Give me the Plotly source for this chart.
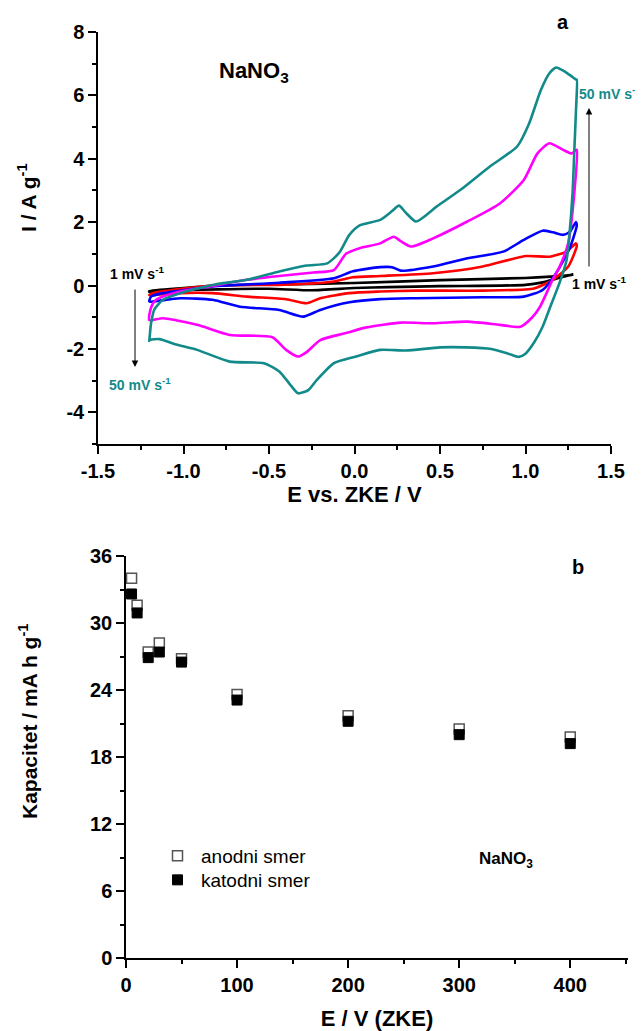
import plotly.graph_objects as go

# ---------- Panel a: cyclic voltammograms (NaNO3) ----------
teal_x = [-1.2, -1.19, -1.17, -1.12, -1.02, -0.83, -0.63, -0.44, -0.28, -0.16, -0.09, -0.03, 0.03, 0.15, 0.22, 0.26, 0.30, 0.36, 0.48, 0.62, 0.79, 0.95, 1.02, 1.09, 1.14, 1.18, 1.23, 1.27, 1.295,
          1.30, 1.295, 1.285, 1.275, 1.255, 1.24, 1.20, 1.15, 1.10, 1.05, 1.00, 0.96, 0.90, 0.80, 0.65, 0.50, 0.30, 0.15, 0.01, -0.12, -0.22, -0.27, -0.33, -0.38, -0.44, -0.53, -0.73, -0.92, -1.05, -1.14, -1.2, -1.2]
teal_y = [-1.75, -1.2, -0.75, -0.45, -0.24, 0.02, 0.18, 0.44, 0.63, 0.70, 1.03, 1.6, 1.9, 2.07, 2.35, 2.52, 2.3, 2.02, 2.49, 3.02, 3.75, 4.38, 5.1, 6.17, 6.7, 6.88, 6.75, 6.6, 6.5,
          6.5, 5.5, 4.2, 2.9, 1.5, 0.8, 0.1, -0.6, -1.3, -1.8, -2.15, -2.25, -2.15, -2.0, -1.95, -1.95, -2.05, -2.03, -2.24, -2.45, -2.98, -3.3, -3.40, -3.1, -2.71, -2.45, -2.40, -2.03, -1.85, -1.69, -1.72, -1.75]

magenta_x = [-1.2, -1.19, -1.16, -1.02, -0.83, -0.63, -0.44, -0.24, -0.12, -0.05, 0.03, 0.15, 0.23, 0.27, 0.33, 0.46, 0.66, 0.85, 0.99, 1.07, 1.14, 1.22, 1.27, 1.295,
             1.30, 1.285, 1.25, 1.20, 1.16, 1.085, 1.04, 0.97, 0.85, 0.66, 0.46, 0.27, 0.07, -0.05, -0.20, -0.28, -0.33, -0.40, -0.48, -0.73, -0.92, -1.12, -1.2]
magenta_y = [-1.09, -0.7, -0.45, -0.19, -0.01, 0.18, 0.30, 0.41, 0.49, 1.0, 1.18, 1.33, 1.54, 1.4, 1.23, 1.49, 2.02, 2.59, 3.33, 4.17, 4.49, 4.28, 4.17, 4.28,
             4.28, 2.9, 1.34, 0.6, 0.2, -0.67, -1.0, -1.30, -1.24, -1.14, -1.19, -1.17, -1.32, -1.50, -1.72, -2.1, -2.24, -2.03, -1.63, -1.56, -1.24, -1.03, -1.09]

blue_x = [-1.2, -1.19, -1.12, -0.83, -0.44, -0.12, -0.01, 0.15, 0.22, 0.27, 0.46, 0.66, 0.87, 0.99, 1.10, 1.16, 1.22, 1.26, 1.295,
          1.30, 1.26, 1.18, 1.10, 0.99, 0.75, 0.36, 0.15, -0.03, -0.20, -0.30, -0.44, -0.67, -0.83, -1.02, -1.19, -1.2]
blue_y = [-0.5, -0.35, -0.24, -0.03, 0.09, 0.23, 0.45, 0.58, 0.58, 0.47, 0.60, 0.86, 1.07, 1.44, 1.73, 1.68, 1.60, 1.7, 2.0,
          1.9, 1.2, 0.4, -0.14, -0.35, -0.37, -0.40, -0.43, -0.53, -0.77, -0.98, -0.77, -0.67, -0.45, -0.40, -0.51, -0.5]

red_x = [-1.2, -1.18, -0.83, -0.44, -0.12, -0.01, 0.15, 0.46, 0.75, 1.0, 1.14, 1.24, 1.295,
         1.30, 1.25, 1.16, 1.05, 0.75, 0.36, 0.15, -0.03, -0.20, -0.28, -0.40, -0.63, -0.83, -1.02, -1.19, -1.2]
red_y = [-0.3, -0.24, 0.0, 0.02, 0.13, 0.26, 0.30, 0.39, 0.60, 0.93, 0.91, 1.07, 1.33,
         1.25, 0.60, 0.18, -0.09, -0.16, -0.16, -0.19, -0.24, -0.40, -0.56, -0.43, -0.35, -0.24, -0.24, -0.3, -0.3]

black_x = [-1.2, -1.0, -0.8, -0.5, 0.0, 0.5, 1.0, 1.15, 1.25, 1.28,
           1.28, 1.2, 1.1, 1.0, 0.5, 0.2, 0.0, -0.25, -0.5, -0.8, -1.0, -1.2, -1.2]
black_y = [-0.18, -0.08, 0.0, 0.03, 0.08, 0.17, 0.24, 0.28, 0.32, 0.35,
           0.35, 0.25, 0.1, 0.02, -0.02, -0.05, -0.08, -0.15, -0.1, -0.12, -0.15, -0.2, -0.18]

xa_ticks = [-1.5, -1.0, -0.5, 0.0, 0.5, 1.0, 1.5]
xa_labels = ["-1.5", "-1.0", "-0.5", "0.0", "0.5", "1.0", "1.5"]
ya_ticks = [-4, -2, 0, 2, 4, 6, 8]
ya_labels = ["-4", "-2", "0", "2", "4", "6", "8"]

# ---------- Panel b: capacity vs scan rate ----------
rate = [5, 10, 20, 30, 50, 100, 200, 300, 400]
anodni = [34.0, 31.6, 27.4, 28.2, 26.8, 23.6, 21.7, 20.5, 19.8]
katodni = [32.6, 30.9, 26.9, 27.4, 26.5, 23.1, 21.2, 20.0, 19.2]

FONT = "Liberation Sans, Arial, sans-serif"
TEAL = "#138a8a"

# page body has an 8px margin; figure sized to fill the rest of the window
OFF = 8
W, H = 643 - OFF, 1031 - OFF
def px(v): return (v - OFF) / W          # window pixel -> paper x
def py(v): return 1 - (v - OFF) / H      # window pixel -> paper y

fig = go.Figure()
for xs, ys, col in [(black_x, black_y, "black"), (red_x, red_y, "#ff0000"),
                    (blue_x, blue_y, "#0000ff"), (magenta_x, magenta_y, "#ff00ff"),
                    (teal_x, teal_y, TEAL)]:
    fig.add_trace(go.Scatter(x=xs, y=ys, mode="lines",
                             line=dict(color=col, width=2.6, shape="spline", smoothing=0.6),
                             showlegend=False, xaxis="x", yaxis="y"))

fig.add_trace(go.Scatter(x=rate, y=anodni, mode="markers", name="anodni smer", legend="legend",
                         marker=dict(symbol="square", size=10, color="white",
                                     line=dict(color="#555555", width=1.5)),
                         xaxis="x2", yaxis="y2"))
fig.add_trace(go.Scatter(x=rate, y=katodni, mode="markers", name="katodni smer", legend="legend2",
                         marker=dict(symbol="square", size=10, color="black",
                                     line=dict(color="black", width=1)),
                         xaxis="x2", yaxis="y2"))

axis_common = dict(showline=True, linecolor="black", linewidth=1.5, mirror=False,
                   ticks="outside", ticklen=8, tickwidth=1.5, tickcolor="black",
                   showgrid=False, zeroline=False, automargin=False,
                   tickfont=dict(family=FONT, size=20, color="black", weight="bold"))
minor_common = dict(ticks="outside", ticklen=4, tickcolor="black", tickwidth=1.5, showgrid=False)

legend_common = dict(xanchor="left", yanchor="top", bgcolor="rgba(0,0,0,0)",
                     font=dict(family=FONT, size=19, color="black"), itemwidth=37)

fig.update_layout(
    template="none",
    width=W, height=H, margin=dict(l=0, r=0, t=0, b=0, autoexpand=False),
    paper_bgcolor="white", plot_bgcolor="white",
    font=dict(family=FONT, color="black"),
    xaxis=dict(domain=[px(98), px(611)], anchor="y", range=[-1.5, 1.5],
               tickvals=xa_ticks, ticktext=xa_labels,
               minor=dict(dtick=0.25, **minor_common),
               title=dict(text="E vs. ZKE / V", font=dict(family=FONT, size=22, weight="bold"), standoff=6),
               **axis_common),
    yaxis=dict(domain=[py(444), py(32)], anchor="x", range=[-5, 8],
               tickvals=ya_ticks, ticktext=ya_labels,
               minor=dict(dtick=1, **minor_common),
               **axis_common),
    xaxis2=dict(domain=[px(126), px(628)], anchor="y2", range=[0, 452], dtick=100,
                minor=dict(dtick=50, **minor_common),
                title=dict(text="E / V (ZKE)", font=dict(family=FONT, size=22, weight="bold"), standoff=22),
                **axis_common),
    yaxis2=dict(domain=[py(958), py(556)], anchor="x2", range=[0, 36], dtick=6,
                minor=dict(dtick=3, **minor_common),
                **axis_common),
    showlegend=True,
    legend=dict(x=px(154), y=py(837), **legend_common),
    legend2=dict(x=px(154), y=py(861), **legend_common),
)

bold = dict(family=FONT, color="black", weight="bold")
tealbold = dict(family=FONT, color=TEAL, weight="bold")
ann = [
    dict(x=px(27), y=py(198), xref="paper", yref="paper", text="I / A g<sup>-1</sup>", textangle=-90,
         xanchor="center", yanchor="middle", showarrow=False, font=dict(size=21, **bold)),
    dict(x=px(28), y=py(722), xref="paper", yref="paper", text="Kapacitet / mA h g<sup>-1</sup>", textangle=-90,
         xanchor="center", yanchor="middle", showarrow=False, font=dict(size=21, **bold)),
    dict(x=px(563), y=py(22), xref="paper", yref="paper", text="a", xanchor="center", yanchor="middle",
         showarrow=False, font=dict(size=20, **bold)),
    dict(x=px(254), y=py(72), xref="paper", yref="paper", text="NaNO<sub>3</sub>", xanchor="center", yanchor="middle",
         showarrow=False, font=dict(size=22, **bold)),
    dict(x=px(577), y=py(93), xref="paper", yref="paper", text="50 mV s<sup>-1</sup>", xanchor="left", yanchor="middle",
         showarrow=False, font=dict(size=14, **tealbold)),
    dict(x=px(570), y=py(283), xref="paper", yref="paper", text="1 mV s<sup>-1</sup>", xanchor="left", yanchor="middle",
         showarrow=False, font=dict(size=14, **bold)),
    dict(x=px(137), y=py(273), xref="paper", yref="paper", text="1 mV s<sup>-1</sup>", xanchor="center", yanchor="middle",
         showarrow=False, font=dict(size=14, **bold)),
    dict(x=px(140), y=py(384), xref="paper", yref="paper", text="50 mV s<sup>-1</sup>", xanchor="center", yanchor="middle",
         showarrow=False, font=dict(size=14, **tealbold)),
    dict(x=px(589), y=py(108), ax=0, ay=160, xref="paper", yref="paper",
         text="", showarrow=True, arrowhead=2, arrowsize=1.3, arrowwidth=1, arrowcolor="black"),
    dict(x=px(135), y=py(367), ax=0, ay=-79, xref="paper", yref="paper",
         text="", showarrow=True, arrowhead=2, arrowsize=1.3, arrowwidth=1, arrowcolor="black"),
    dict(x=px(578), y=py(567), xref="paper", yref="paper", text="b", xanchor="center", yanchor="middle",
         showarrow=False, font=dict(size=20, **bold)),
    dict(x=px(506), y=py(860), xref="paper", yref="paper", text="NaNO<sub>3</sub>", xanchor="center", yanchor="middle",
         showarrow=False, font=dict(size=17, **bold)),
]
fig.update_layout(annotations=ann)

fig.write_html("out.html")
